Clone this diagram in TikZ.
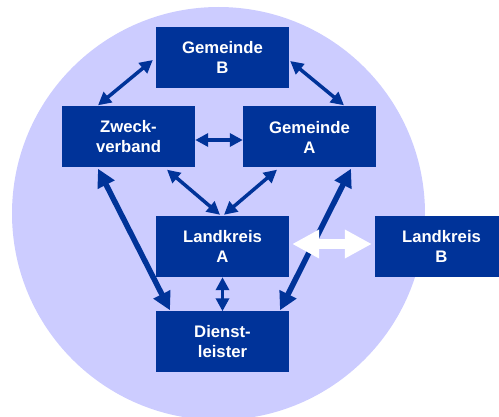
\documentclass[tikz,border=0pt]{standalone}
\usepackage{fontspec}
\setmainfont{Liberation Sans}
\usepackage{xcolor}
\usetikzlibrary{arrows.meta,positioning,calc}
\definecolor{dunkelblau}{RGB}{0,51,153}
\definecolor{flieder}{RGB}{204,204,255}
\tikzset{
  kasten/.style={fill=dunkelblau,text=white,font=\fontsize{16.7}{20}\selectfont\bfseries,
    align=center,minimum width=133pt,minimum height=61pt,inner sep=0pt},
  pfeil/.style={draw=dunkelblau,line width=3.5pt,{Triangle[length=13pt,width=13pt]}-{Triangle[length=13pt,width=13pt]}},
  dickpfeil/.style={draw=dunkelblau,line width=5.5pt,{Triangle[length=18pt,width=18pt]}-{Triangle[length=18pt,width=18pt]}},
  blockpfeil/.style={draw=white,line width=10pt,{Triangle[length=27pt,width=27pt]}-{Triangle[length=27pt,width=27pt]}}
}
\begin{document}
\begin{tikzpicture}[x=1pt,y=-1pt]
  \useasboundingbox (0,0) rectangle (499,417);
  \clip (0,0) rectangle (499,417);
  \fill[flieder] (218.5,213.5) circle (206.5);
  \node[kasten] (gemB) at (222.5,57.5) {Gemeinde\\B};
  \node[kasten] (zweck) at (128.5,137) {Zweck-\\verband};
  \node[kasten] (gemA) at (309.5,137) {Gemeinde\\A};
  \node[kasten] (lkA) at (222.5,246.5) {Landkreis\\A};
  \node[kasten] (lkB) at (441.5,246.5) {Landkreis\\B};
  \node[kasten] (dienst) at (222.5,342) {Dienst-\\leister};
  \draw[pfeil] ([shift={(-3,2.5)}]gemB.west) -- ([shift={(-30.5,-1)}]zweck.north);
  \draw[pfeil] ([shift={(1,3.5)}]gemB.east) -- ([shift={(34.5,-1)}]gemA.north);
  \draw[pfeil] ([shift={(0,3)}]zweck.east) -- ([shift={(0,3)}]gemA.west);
  \draw[pfeil] ([shift={(38.5,2)}]zweck.south) -- ([shift={(-2.5,-1)}]lkA.north);
  \draw[pfeil] ([shift={(-32.5,2)}]gemA.south) -- ([shift={(1.5,-1)}]lkA.north);
  \draw[pfeil] (lkA.south) -- (dienst.north);
  \draw[dickpfeil] ([shift={(-30.5,1)}]zweck.south) -- ([shift={(-52.5,-1)}]dienst.north);
  \draw[dickpfeil] ([shift={(41.5,1)}]gemA.south) -- ([shift={(57.5,-1)}]dienst.north);
  \draw[blockpfeil] ([shift={(3,-2.5)}]lkA.east) -- ([shift={(-3,-2.5)}]lkB.west);
\end{tikzpicture}
\end{document}
